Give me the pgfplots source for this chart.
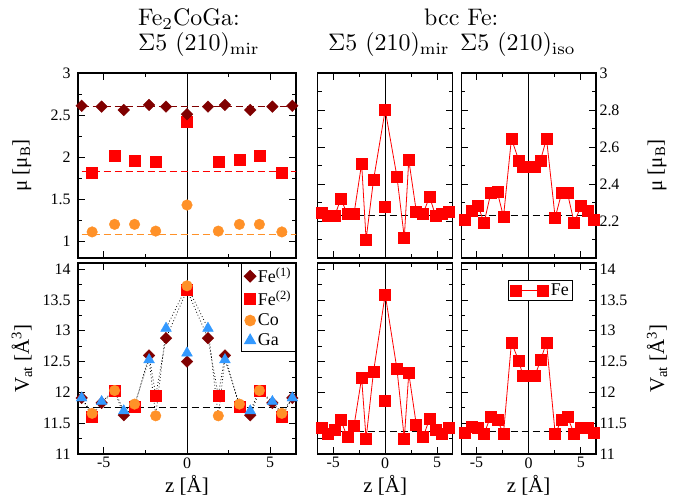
\documentclass[border=0pt]{standalone}
\usepackage[no-math]{fontspec}
\setmainfont{Liberation Serif}
\usepackage{pgfplots}
\pgfplotsset{compat=1.18}
\definecolor{fe1}{RGB}{128,0,0}
\definecolor{fe2}{RGB}{255,0,0}
\definecolor{co}{RGB}{255,145,40}
\definecolor{ga}{RGB}{51,153,255}
\newcommand{\ttl}[1]{\scalebox{2.4}{\fontsize{10}{12}\fontfamily{lmr}\selectfont #1}}
\pgfplotsset{
  base/.style={
    scale only axis,
    axis line style={line width=1.1bp},
    tick align=inside,
    xtick pos=both, ytick pos=both,
    major tick length=7bp, minor tick length=4bp,
    tick style={black, line width=0.8bp},
    xtick={-5,0,5}, minor xtick={-2.5,2.5},
    tick label style={font=\fontsize{16}{18}\selectfont},
    label style={font=\fontsize{21}{24}\selectfont},
    /pgf/number format/assume math mode=true,
    clip=true,
  },
  toprow/.style={height=185bp, xticklabels={}},
  botrow/.style={height=191bp, ymin=11, ymax=14.1, ytick={11,11.5,...,14}, minor y tick num=1,
     xlabel={z [Å]}, xlabel style={at={(axis description cs:0.5,-0.165)}, anchor=center}},
  rtop/.style={ymin=2.0, ymax=3.0, ytick={2.2,2.4,2.6,2.8,3}, minor ytick={2.1,2.3,2.5,2.7,2.9}},
  rline/.style={color=fe2, mark=square*, mark size=5.5bp, line width=0.8bp, mark options={solid}},
  fe1m/.style={only marks, mark=square*, mark options={rotate=45, fill=fe1, draw=fe1}, mark size=4.1bp},
  fe2m/.style={only marks, mark=square*, mark options={fill=fe2, draw=fe2}, mark size=5.5bp},
  com/.style={only marks, mark=*, mark options={fill=co, draw=co}, mark size=5.3bp},
  gam/.style={only marks, mark=triangle*, mark options={fill=ga, draw=ga}, mark size=6.2bp},
  dotl/.style={black, line width=0.8bp, dash pattern=on 0.8bp off 2.4bp, forget plot},
  vline/.style={black, line width=0.7bp, forget plot},
  dl/.style={line width=1bp, dash pattern=on 7bp off 4bp, forget plot},
}
\begin{document}
\begin{tikzpicture}
\useasboundingbox (0,0) rectangle (680bp,500bp);
% ---------------- top left
\begin{axis}[base, toprow, at={(78bp,242bp)}, anchor=south west, width=218bp,
  xmin=-6.55, xmax=6.55, ymin=0.8, ymax=3, ytick={1,1.5,...,3}, minor y tick num=1,
  yticklabel style={xshift=-4bp},
  ylabel={μ [μ\textsubscript{B}]}, ylabel style={at={(axis description cs:-0.257,0.5)}, anchor=center}]
\addplot[vline] coordinates {(0,0.8) (0,3)};
\addplot[fe1, dl] coordinates {(-7,2.605) (7,2.605)};
\addplot[fe2, dl] coordinates {(-7,1.83) (7,1.83)};
\addplot[co, dl] coordinates {(-7,1.08) (7,1.08)};
\addplot[fe2m] coordinates {(-5.7,1.81) (-4.35,2.02) (-3.15,1.96) (-1.88,1.95) (0,2.42) (1.88,1.95) (3.15,1.97) (4.35,2.02) (5.7,1.81)};
\addplot[fe1m] coordinates {(-6.33,2.61) (-5.13,2.60) (-3.8,2.56) (-2.28,2.62) (-1.26,2.60) (0,2.51) (1.26,2.60) (2.28,2.62) (3.8,2.56) (5.13,2.60) (6.33,2.61)};
\addplot[com] coordinates {(-5.7,1.11) (-4.35,1.20) (-3.15,1.20) (-1.88,1.12) (0,1.43) (1.88,1.12) (3.15,1.20) (4.35,1.20) (5.7,1.11)};
\end{axis}
% ---------------- top middle
\begin{axis}[base, toprow, rtop, at={(317.7bp,242bp)}, anchor=south west, width=135bp,
  xmin=-6.5, xmax=6.5, yticklabels={}]
\addplot[vline] coordinates {(0,2) (0,3)};
\addplot[black, dl] coordinates {(-7,2.23) (7,2.23)};
\addplot[rline] coordinates {(-6.12,2.245) (-5.48,2.23) (-4.87,2.227) (-4.27,2.32) (-3.64,2.236) (-3.0,2.24) (-2.27,2.51) (-1.84,2.10) (-1.13,2.42) (0,2.80) (1.13,2.44) (1.84,2.11) (2.27,2.53) (3.0,2.25) (3.64,2.24) (4.27,2.33) (4.87,2.227) (5.48,2.236) (6.12,2.25)};
\addplot[rline, only marks] coordinates {(0,2.278)};
\end{axis}
% ---------------- top right
\begin{axis}[base, toprow, rtop, at={(461.3bp,242bp)}, anchor=south west, width=134.7bp,
  xmin=-6.45, xmax=6.45, yticklabel pos=right, ytick pos=both,
  ylabel={μ [μ\textsubscript{B}]}, ylabel style={at={(axis description cs:1.453,0.5)}, anchor=center}]
\addplot[vline] coordinates {(0,2) (0,3)};
\addplot[black, dl] coordinates {(-7,2.23) (7,2.23)};
\addplot[rline] coordinates {(-6.12,2.204) (-5.48,2.255) (-4.84,2.282) (-4.27,2.19) (-3.63,2.35) (-2.99,2.355) (-2.41,2.222) (-1.65,2.645) (-0.94,2.527) (-0.53,2.495) (0.59,2.495) (1.13,2.527) (1.71,2.645) (2.54,2.218) (3.15,2.35) (3.72,2.35) (4.36,2.19) (5.0,2.28) (5.7,2.255) (6.25,2.204)};
\end{axis}
% ---------------- bottom left
\begin{axis}[base, botrow, at={(78bp,46bp)}, anchor=south west, width=218bp,
  xmin=-6.55, xmax=6.55, yticklabel style={xshift=-4bp},
  ylabel={V\textsubscript{at} [Å\textsuperscript{3}]}, ylabel style={at={(axis description cs:-0.257,0.5)}, anchor=center},
  legend style={at={(1,1)}, anchor=north east, draw=black, line width=1bp, fill=white,
    font=\fontsize{18}{19}\selectfont, inner sep=2.5bp, row sep=2.5bp},
  legend cell align=left]
\addplot[vline] coordinates {(0,11) (0,14.1)};
\addplot[black, dl] coordinates {(-7,11.75) (7,11.75)};
\addplot[dotl] coordinates {(-6.33,11.91) (-5.7,11.61) (-5.13,11.83) (-4.35,12.02) (-3.8,11.63) (-3.15,11.76) (-2.28,12.60) (-1.88,11.95) (-1.26,12.88) (0,13.66) (1.26,12.88) (1.88,11.95) (2.28,12.60) (3.15,11.76) (3.8,11.63) (4.35,12.02) (5.13,11.83) (5.7,11.61) (6.33,11.91)};
\addplot[dotl] coordinates {(-6.33,11.91) (-5.7,11.66) (-5.13,11.85) (-4.35,12.03) (-3.8,11.70) (-3.15,11.81) (-2.28,12.53) (-1.88,11.62) (-1.26,13.04) (0,13.73) (1.26,13.04) (1.88,11.62) (2.28,12.53) (3.15,11.81) (3.8,11.70) (4.35,12.03) (5.13,11.85) (5.7,11.66) (6.33,11.91)};
\addplot[fe1m] coordinates {(-6.33,11.91) (-5.13,11.83) (-3.8,11.63) (-2.28,12.60) (-1.26,12.88) (0,12.50) (1.26,12.88) (2.28,12.60) (3.8,11.63) (5.13,11.83) (6.33,11.91)};
\addlegendentry{Fe\textsuperscript{(1)}}
\addplot[fe2m] coordinates {(-5.7,11.61) (-4.35,12.02) (-3.15,11.76) (-1.88,11.95) (0,13.66) (1.88,11.95) (3.15,11.76) (4.35,12.02) (5.7,11.61)};
\addlegendentry{Fe\textsuperscript{(2)}}
\addplot[com] coordinates {(-5.7,11.66) (-4.35,12.03) (-3.15,11.81) (-1.88,11.62) (0,13.73) (1.88,11.62) (3.15,11.81) (4.35,12.03) (5.7,11.66)};
\addlegendentry{Co}
\addplot[gam] coordinates {(-6.33,11.91) (-5.13,11.85) (-3.8,11.70) (-2.28,12.53) (-1.26,13.04) (0,12.64) (1.26,13.04) (2.28,12.53) (3.8,11.70) (5.13,11.85) (6.33,11.91)};
\addlegendentry{Ga}
\end{axis}
% ---------------- bottom middle
\begin{axis}[base, botrow, at={(317.7bp,46bp)}, anchor=south west, width=135bp,
  xmin=-6.5, xmax=6.5, yticklabels={}]
\addplot[vline] coordinates {(0,11) (0,14.1)};
\addplot[black, dl] coordinates {(-7,11.36) (7,11.36)};
\addplot[rline] coordinates {(-6.12,11.42) (-5.48,11.33) (-4.87,11.39) (-4.27,11.55) (-3.64,11.27) (-3.0,11.46) (-2.27,12.235) (-1.84,11.25) (-1.13,12.33) (0,13.59) (1.13,12.38) (1.84,11.25) (2.27,12.31) (3.0,11.47) (3.64,11.27) (4.27,11.57) (4.87,11.39) (5.48,11.32) (6.12,11.43)};
\addplot[rline, only marks] coordinates {(0,11.86)};
\end{axis}
% ---------------- bottom right
\begin{axis}[base, botrow, at={(461.3bp,46bp)}, anchor=south west, width=134.7bp,
  xmin=-6.45, xmax=6.45, yticklabel pos=right, ytick pos=both,
  ylabel={V\textsubscript{at} [Å\textsuperscript{3}]}, ylabel style={at={(axis description cs:1.453,0.5)}, anchor=center},
  legend style={at={(0.827,0.911)}, anchor=north east, draw=black, line width=1bp, fill=white,
    font=\fontsize{18}{20}\selectfont, inner sep=1.5bp},
  legend image code/.code={\path[draw=none, fill=none] (-6bp,-6bp) rectangle (33bp,6bp); \draw[#1] plot coordinates {(0bp,0bp) (27bp,0bp)};}]
\addplot[rline] coordinates {(-6.12,11.35) (-5.48,11.44) (-4.84,11.42) (-4.27,11.33) (-3.63,11.61) (-2.99,11.55) (-2.41,11.33) (-1.65,12.81) (-0.94,12.51) (-0.53,12.26) (0.59,12.26) (1.13,12.52) (1.71,12.81) (2.54,11.33) (3.15,11.55) (3.72,11.60) (4.36,11.33) (5.0,11.42) (5.7,11.42) (6.25,11.35)};
\addlegendentry{Fe}
\addplot[vline] coordinates {(0,11) (0,14.1)};
\addplot[black, dl] coordinates {(-7,11.36) (7,11.36)};
\end{axis}
% ---------------- titles
\begin{scope}[every node/.style={inner sep=0pt, anchor=base west}]
\node at (138bp,474bp) {\ttl{Fe$_2$CoGa:}};
\node at (138bp,449bp) {\ttl{$\Sigma5$ (210)$_{\mathrm{mir}}$}};
\node at (424bp,474bp) {\ttl{bcc Fe:}};
\node at (328bp,449bp) {\ttl{$\Sigma5$ (210)$_{\mathrm{mir}}$}};
\node at (460bp,449bp) {\ttl{$\Sigma5$ (210)$_{\mathrm{iso}}$}};
\end{scope}
\end{tikzpicture}
\end{document}
